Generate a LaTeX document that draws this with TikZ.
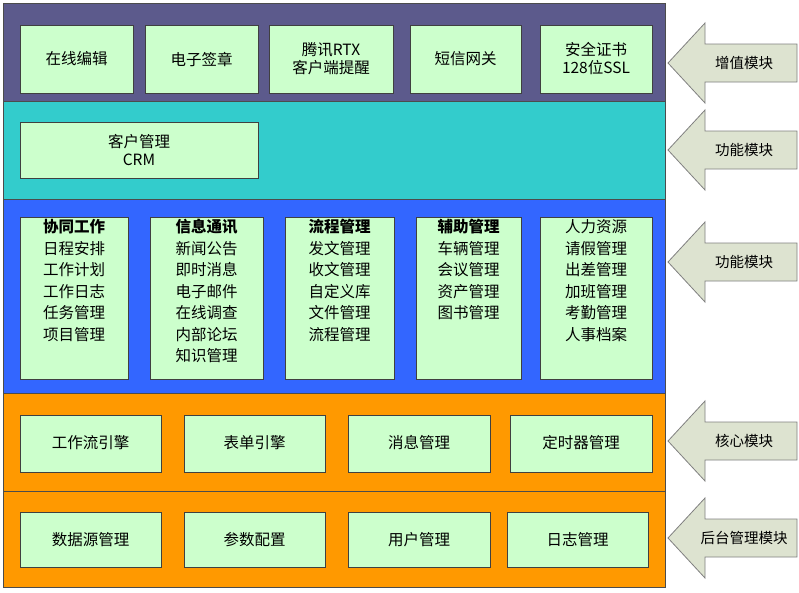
\documentclass[tikz,border=0pt]{standalone}
\usepackage{fontspec}
\setmainfont{Noto Sans CJK SC}
\definecolor{cpurp}{RGB}{92,90,140}
\definecolor{cteal}{RGB}{51,204,204}
\definecolor{cblue}{RGB}{51,102,255}
\definecolor{corng}{RGB}{255,153,0}
\definecolor{cgrn}{RGB}{204,255,204}
\definecolor{carr}{RGB}{221,227,208}
\begin{document}
\begin{tikzpicture}[x=1pt,y=-1pt,
  band/.style={draw=black!70,line width=0.8pt},
  gbox/.style={draw=black!75,fill=cgrn,line width=0.8pt},
  lbl/.style={font=\fontsize{15.5}{18}\selectfont,align=center},
  arr/.style={draw=gray,fill=carr,line width=0.8pt}]
\useasboundingbox (0,0) rectangle (799,592);
\fill[white] (0,0) rectangle (799,592);
\filldraw[band,fill=cpurp] (3,3) rectangle (665,101);
\filldraw[band,fill=cteal] (3,101) rectangle (665,199);
\filldraw[band,fill=cblue] (3,199) rectangle (665,393);
\filldraw[band,fill=corng] (3,393) rectangle (665,491);
\filldraw[band,fill=corng] (3,491) rectangle (665,587);
\foreach \a/\b/\t [count=\i] in {20/133/在线编辑,145/258/电子签章,269/393/{腾讯RTX\\客户端提醒},410/521/短信网关,540/652/{安全证书\\128位SSL}}{
  \draw[gbox] (\a,25) rectangle (\b,93);
  \node[lbl] (t\i) at ({(\a+\b)/2},59) {\t};}
\draw[gbox] (20,122) rectangle (258,178);
\node[lbl] (crm) at (139,150) {客户管理\\CRM};
\foreach \a/\b/\t [count=\i] in {20/128/{\textbf{协同工作}\\日程安排\\工作计划\\工作日志\\任务管理\\项目管理},150/263/{\textbf{信息通讯}\\新闻公告\\即时消息\\电子邮件\\在线调查\\内部论坛\\知识管理},285/394/{\textbf{流程管理}\\发文管理\\收文管理\\自定义库\\文件管理\\流程管理},416/521/{\textbf{辅助管理}\\车辆管理\\会议管理\\资产管理\\图书管理},540/652/{人力资源\\请假管理\\出差管理\\加班管理\\考勤管理\\人事档案}}{
  \draw[gbox] (\a,217) rectangle (\b,379);
  \node[lbl,anchor=north,font=\fontsize{15.5}{21.5}\selectfont] (m\i) at ({(\a+\b)/2},216) {\t};}
\foreach \a/\b/\t [count=\i] in {20/161/工作流引擎,184/325/表单引擎,348/490/消息管理,510/652/定时器管理}{
  \draw[gbox] (\a,415) rectangle (\b,472);
  \node[lbl] (c\i) at ({(\a+\b)/2},443) {\t};}
\foreach \a/\b/\t [count=\i] in {20/161/数据源管理,184/325/参数配置,348/490/用户管理,507/648/日志管理}{
  \draw[gbox] (\a,512) rectangle (\b,567);
  \node[lbl] (d\i) at ({(\a+\b)/2},540) {\t};}
\foreach \y/\t [count=\i] in {63/增值模块,150/功能模块,262/功能模块,441/核心模块,538/后台管理模块}{
  \draw[arr] (668,\y) -- (705,\y-40) -- (705,\y-19) -- (797,\y-19) -- (797,\y+19) -- (705,\y+19) -- (705,\y+40) -- cycle;
  \node[lbl,font=\fontsize{14.5}{17}\selectfont] (a\i) at (744,\y) {\t};}
\end{tikzpicture}
\end{document}
